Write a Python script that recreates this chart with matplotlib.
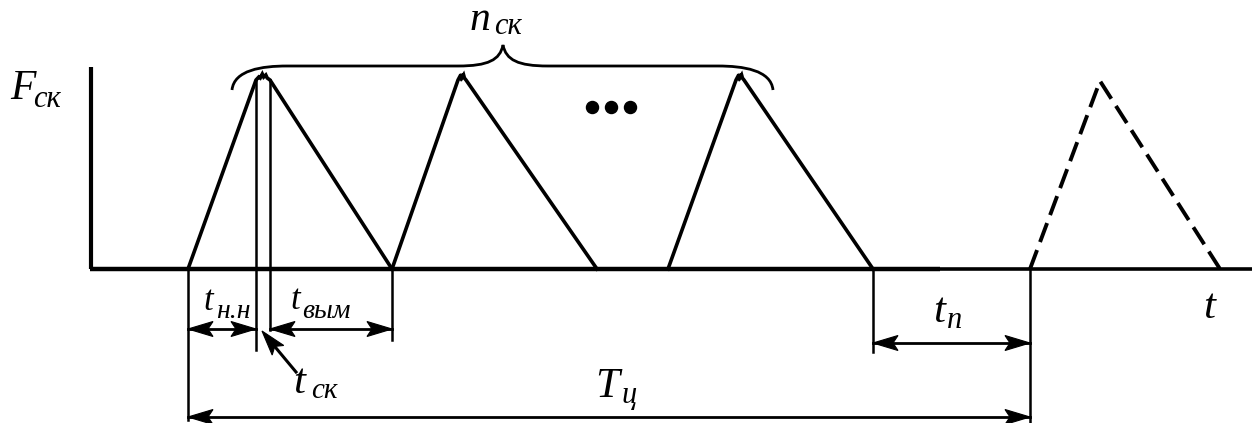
import matplotlib
matplotlib.use("Agg")
import matplotlib.pyplot as plt
from matplotlib.path import Path
from matplotlib.patches import PathPatch, Polygon
import numpy as np

plt.rcParams['font.family'] = ['Liberation Serif', 'DejaVu Serif']

# Diagram data (pixel-space schematic units)
baseline_y = 269
peak_y = 80
pulse_starts = [188, 392, 668]
pulse_peaks_l = [256, 458, 736]
pulse_peaks_r = [270, 466, 744]
pulse_ends = [392, 597, 873]
dashed_pulse = [1030, 1100, 1220]
dashed_peak_y = 81
dots_x = [592, 611, 630]
dots_y = 107

# labels: main letter, subscript
label_main = ['F', 'n', 't', 't', 't', 't', 'T', 't']
label_sub = ['ск', 'ск', 'н.н', 'вым', 'ск', 'п', 'ц', '']
label_pos = [(10, 99), (470, 30), (203, 310), (290, 309), (293, 393), (933, 322), (595, 397), (1203, 318)]
label_size = [30, 30, 25, 25, 31, 31, 31, 31]
sub_pos = [(33, 107), (494, 34), (216, 318), (302, 318), (311, 398), (947, 328), (621, 403), (0, 0)]
sub_size = [22, 22, 20, 20, 21, 22, 22, 0]

fig = plt.figure(figsize=(12.55, 4.23), dpi=100)
ax = fig.add_axes([0, 0, 1, 1])
ax.set_xlim(0, 1255)
ax.set_ylim(423, 0)
ax.axis('off')

lw = 2.6
# axes
ax.plot([91, 91], [67, baseline_y], color='black', lw=3, solid_capstyle='butt')
ax.plot([89.5, 940], [baseline_y, baseline_y], color='black', lw=3.2, solid_capstyle='butt')
ax.plot([940, 1252], [baseline_y, baseline_y], color='black', lw=2.6, solid_capstyle='butt')

# pulses with jagged tops
for s, pl, pr, e in zip(pulse_starts, pulse_peaks_l, pulse_peaks_r, pulse_ends):
    w = pr - pl
    xs = [s, pl, pl + w * 0.2, pl + w * 0.3, pl + w * 0.45, pl + w * 0.55, pl + w * 0.7, pl + w * 0.8, pr, e]
    ys = [baseline_y, peak_y, peak_y - 3, peak_y - 2, peak_y - 6, peak_y - 3, peak_y - 5, peak_y - 2, peak_y, baseline_y]
    ax.plot(xs, ys, color='black', lw=lw, solid_joinstyle='miter')

# dashed pulse
ax.plot([dashed_pulse[0], dashed_pulse[1], dashed_pulse[2]],
        [baseline_y, dashed_peak_y, baseline_y], color='black', lw=2.8,
        dashes=(5.2, 2.2))

# dots
ax.scatter(dots_x, [dots_y] * 3, s=75, color='black')

# brace over pulses
bx0, bx1, bmid = 232, 773, 503
verts = [(bx0, 90), (bx0 + 2, 70), (bx0 + 30, 66), (bx0 + 55, 66),
         (bmid - 45, 66),
         (bmid - 15, 66), (bmid - 3, 60), (bmid, 45),
         (bmid + 3, 60), (bmid + 15, 66), (bmid + 45, 66),
         (bx1 - 55, 66),
         (bx1 - 30, 66), (bx1 - 2, 70), (bx1, 90)]
codes = [Path.MOVETO, Path.CURVE4, Path.CURVE4, Path.CURVE4,
         Path.LINETO,
         Path.CURVE4, Path.CURVE4, Path.CURVE4,
         Path.CURVE4, Path.CURVE4, Path.CURVE4,
         Path.LINETO,
         Path.CURVE4, Path.CURVE4, Path.CURVE4]
ax.add_patch(PathPatch(Path(verts, codes), fill=False, lw=2, color='black'))

# extension lines
thin = 1.8
ext = [(188, 420), (256, 350), (270, 330), (392, 340), (873, 352), (1030, 423)]
for x, y1 in ext:
    top = peak_y if x in (256, 270) else baseline_y
    ax.plot([x, x], [top, y1], color='black', lw=thin)

def head(tip, frm, L=25, w=7.5, notch=0.8):
    tip = np.array(tip, float); frm = np.array(frm, float)
    d = frm - tip; d /= np.hypot(*d)
    n = np.array([-d[1], d[0]])
    pts = [tip, tip + d * L + n * w, tip + d * L * notch, tip + d * L - n * w]
    ax.add_patch(Polygon(pts, closed=True, color='black', lw=0.8))

def dim(x0, x1, y):
    ax.plot([x0, x1], [y, y], color='black', lw=2)
    head((x0, y), (x1, y))
    head((x1, y), (x0, y))

dim(188, 256, 329)
dim(270, 392, 329)
dim(873, 1030, 343)
dim(188, 1030, 417)
ax.plot([296, 266], [372, 336], color='black', lw=2.2)
head((262, 331), (296, 372))

for m, (x, y), s, sb, (sx, sy), ss in zip(label_main, label_pos, label_size,
                                           label_sub, sub_pos, sub_size):
    ax.text(x, y, m, fontsize=s, style='italic', ha='left', va='baseline')
    if sb:
        ax.text(sx, sy, sb, fontsize=ss, style='italic', ha='left', va='baseline')

fig.savefig('out.png', dpi=100)
